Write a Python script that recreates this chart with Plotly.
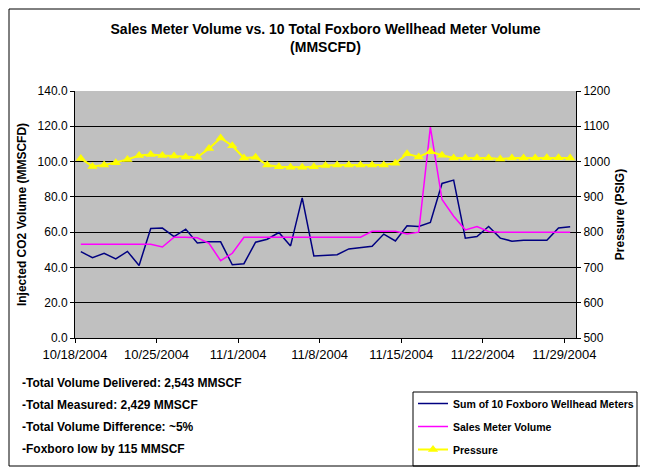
import pandas as pd
import plotly.graph_objects as go

# daily readings, 10/18/2004 - 11/29/2004 (43 days), plotted at mid-day
dates = pd.date_range('2004-10-18 12:00', periods=43, freq='D')

# sum of the 10 foxboro wellhead meters (MMSCFD)
foxboro = [49.0, 45.5, 48.0, 44.8, 49.1, 41.1, 62.1, 62.3, 57.5, 61.7,
           53.9, 54.5, 54.5, 41.5, 42.1, 54.3, 56.0, 59.8, 52.2, 79.4,
           46.5, 46.9, 47.2, 50.5, 51.2, 52.0, 58.9, 55.0, 63.6, 63.2,
           65.5, 87.6, 89.5, 56.6, 57.5, 63.2, 56.6, 54.9, 55.4, 55.4,
           55.4, 62.3, 63.0]

# sales meter volume (MMSCFD)
sales = [53.1, 53.1, 53.1, 53.1, 53.1, 53.1, 53.1, 51.6, 57.1, 57.1,
         56.8, 53.7, 43.8, 48.0, 57.1, 57.1, 57.1, 57.1, 57.1, 57.1,
         57.1, 57.1, 57.1, 57.1, 57.1, 60.5, 60.5, 60.5, 59.0, 60.0,
         119.5, 78.5, 69.0, 61.3, 63.2, 60.4, 60.0, 60.0, 60.0, 60.0,
         60.0, 60.0, 60.0]

# pressure (PSIG), right axis
pressure = [1009, 986, 990, 997, 1006, 1017, 1020, 1017, 1016, 1013,
            1012, 1037, 1067, 1045, 1010, 1012, 990, 985, 984, 984,
            985, 989, 990, 990, 990, 990, 990, 995, 1022, 1013,
            1028, 1018, 1010, 1010, 1010, 1010, 1007, 1010, 1010, 1010,
            1011, 1011, 1010]

tick_dates = ['2004-10-18', '2004-10-25', '2004-11-01', '2004-11-08',
              '2004-11-15', '2004-11-22', '2004-11-29']
tick_text = ['10/18/2004', '10/25/2004', '11/1/2004', '11/8/2004',
             '11/15/2004', '11/22/2004', '11/29/2004']

notes = ['-Total Volume Delivered: 2,543 MMSCF',
         '-Total Measured: 2,429 MMSCF',
         '-Total Volume Difference: ~5%',
         '-Foxboro low by 115 MMSCF']

font = 'Liberation Sans, Arial, sans-serif'

# page is 648x470 but the body keeps its default 8px margin,
# so the figure itself is 640x462 and sits at (8, 8)
OFF = 8
W, H = 648 - OFF, 470 - OFF
# plot area in page pixels: x 75..576, y 91..338
L, R, T, B = 75, 576, 91, 338


def px(x):
    return (x - L) / (R - L)


def py(y):
    return (B - y) / (B - T)


fig = go.Figure()
fig.add_scatter(x=dates, y=foxboro, name='Sum of 10 Foxboro Wellhead Meters',
                mode='lines', line=dict(color='#000080', width=1.5),
                legendgroup='a')
fig.add_scatter(x=dates, y=sales, name='Sales Meter Volume',
                mode='lines', line=dict(color='#FF00FF', width=1.5),
                legendgroup='b')
fig.add_scatter(x=dates, y=pressure, name='Pressure', yaxis='y2',
                mode='lines+markers', line=dict(color='#FFFF00', width=2),
                marker=dict(symbol='triangle-up', size=9, color='#FFFF00'),
                legendgroup='c')

fig.update_layout(
    width=W, height=H,
    margin=dict(l=L - OFF, r=W + OFF - R, t=T - OFF, b=H + OFF - B,
                autoexpand=False),
    paper_bgcolor='white', plot_bgcolor='#C0C0C0',
    font=dict(family=font, size=12, color='black'),
    title=dict(text='<b>Sales Meter Volume vs. 10 Total Foxboro Wellhead Meter Volume<br>(MMSCFD)</b>',
               xref='paper', x=0.5, xanchor='center',
               y=1 - (34 - OFF) / H, yanchor='middle',
               font=dict(size=14)),
    xaxis=dict(type='date', range=['2004-10-18', '2004-11-30'],
               tickvals=tick_dates, ticktext=tick_text,
               showgrid=False, showline=True, linecolor='black', linewidth=1,
               ticks='outside', ticklen=4, tickcolor='black', zeroline=False,
               tickfont=dict(size=13)),
    yaxis=dict(range=[0, 140], dtick=20, tickformat='.1f',
               showgrid=True, gridcolor='black', gridwidth=1,
               showline=True, linecolor='black', linewidth=1,
               ticks='outside', ticklen=4, tickcolor='black', zeroline=False,
               title=dict(text='<b>Injected CO2 Volume (MMSCFD)</b>',
                          font=dict(size=12), standoff=8)),
    yaxis2=dict(range=[500, 1200], dtick=100, overlaying='y', side='right',
                showgrid=False, showline=True, linecolor='black', linewidth=1,
                ticks='outside', ticklen=4, tickcolor='black', zeroline=False,
                title=dict(text='<b>Pressure (PSIG)</b>',
                           font=dict(size=12), standoff=6)),
    legend=dict(x=px(413), y=py(389), xanchor='left', yanchor='top',
                bgcolor='rgba(0,0,0,0)', borderwidth=0,
                traceorder='grouped', tracegroupgap=4,
                font=dict(size=10.5, family=font, weight='bold'), itemwidth=30),
    showlegend=True,
)

# note lines under the chart
for i, t in enumerate(notes):
    fig.add_annotation(text='<b>' + t + '</b>', xref='paper', yref='paper',
                       x=px(20), y=py(383 + 22 * i), xanchor='left',
                       yanchor='middle', showarrow=False,
                       font=dict(size=12, family=font))

# legend box and the outer frame
fig.add_shape(type='rect', xref='paper', yref='paper',
              x0=px(413), x1=px(637), y0=py(392), y1=py(466),
              line=dict(color='black', width=1), fillcolor='white', layer='below')
fig.add_shape(type='rect', xref='paper', yref='paper',
              x0=px(9), x1=px(642), y0=py(9), y1=py(466),
              line=dict(color='black', width=1))

fig.write_html('out.html')
